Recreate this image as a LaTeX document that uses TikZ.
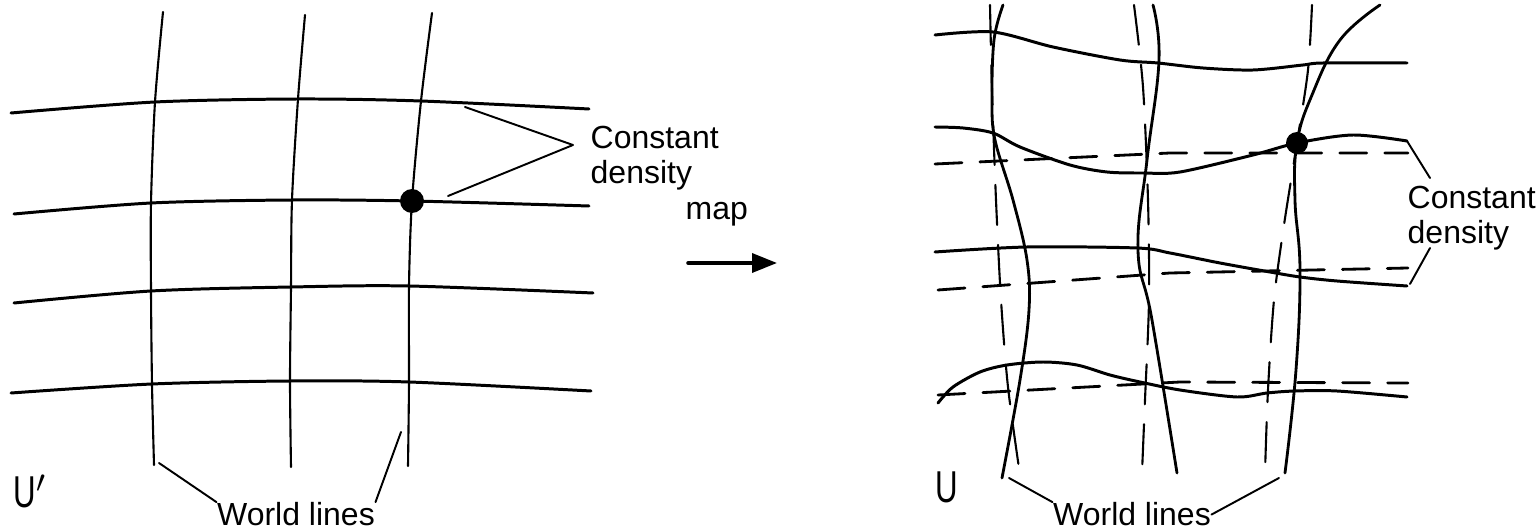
\documentclass[tikz,border=0pt]{standalone}
\usepackage{fontspec}
\setmainfont{Liberation Sans}
\usetikzlibrary{arrows.meta}

\begin{document}
\begin{tikzpicture}[x=0.1mm,y=-0.1mm,line cap=round,line join=round,
  dens/.style={line width=.85pt},wline/.style={line width=.6pt},
  ddens/.style={line width=.8pt,dash pattern=on 2.7mm off 1.8mm},
  dwline/.style={line width=.6pt,dash pattern=on 4mm off 2mm},
  lead/.style={line width=.55pt},
  lbl/.style={inner sep=0pt,font=\fontsize{9.1}{10}\selectfont,align=left}]
  \useasboundingbox (0,0) rectangle (1539,531);
  \draw[dens] plot[smooth] coordinates {(11,113) (155,102) (298,99) (421,101) (589,109)};
  \draw[dens] plot[smooth] coordinates {(14,214) (151,203) (292,200) (412,201) (589,206)};
  \draw[dens] plot[smooth] coordinates {(14,303) (151,291) (291,287) (409,286) (593,293)};
  \draw[dens] plot[smooth] coordinates {(11,393) (152,384) (290,381) (409,382) (591,391)};
  \draw[wline] plot[smooth] coordinates {(163,12) (155,102) (151,203) (151,291) (152,384) (154,465)};
  \draw[wline] plot[smooth] coordinates {(305,15) (298,99) (292,200) (291,287) (290,381) (291,467)};
  \draw[wline] plot[smooth] coordinates {(432,13) (421,101) (412,201) (409,286) (409,382) (408,466)};
  \fill (412,201) circle[radius=1.2mm];
  \node[lbl,anchor=north west] (cdL) at (590,125) {Constant\\density};
  \coordinate (cdLa) at (465,107); \coordinate (tipL) at (573,145); \coordinate (cdLb) at (448,196);
  \draw[lead] (cdLa) -- (tipL) -- (cdLb);
  \node[lbl,anchor=base] (wlL) at (296,526) {World lines};
  \coordinate (wlLa) at (159,463); \coordinate (wlLb) at (401,432);
  \draw[lead] (wlLa) -- (wlL.north west); \draw[lead] (wlLb) -- (wlL.north east);
  \node[anchor=base west,inner sep=0pt,font=\fontsize{12.7}{14}\selectfont] (uL) at (13,508) {\scalebox{.7}[1]{U}$'$};
  \node[lbl,anchor=base west] (mapL) at (685,220) {map};
  \coordinate (mapA) at (688,263); \coordinate (mapB) at (777,263);
  \draw[line width=1pt,-{Triangle[length=2.5mm,width=1.9mm]}] (mapA) -- (mapB);
  \draw[dens] plot[smooth] coordinates {(935,35) (993,32) (1053,47) (1120,60) (1158,63) (1203,68) (1253,70) (1303,65) (1323,63) (1407,63)};
  \draw[dens] plot[smooth] coordinates {(935,127) (963,128) (993,133) (1020,147) (1070,165) (1107,172) (1143,173) (1180,172) (1253,155) (1297,143) (1353,135) (1407,141)};
  \draw[dens] plot[smooth] coordinates {(935,252) (1027,247) (1137,248) (1170,253) (1220,263) (1270,272) (1300,277) (1337,281) (1407,286)};
  \draw[dens] plot[smooth] coordinates {(938,403) (953,387) (980,372) (1007,365) (1043,362) (1077,365) (1110,375) (1140,382) (1180,390) (1237,397) (1267,393) (1295,391) (1337,391) (1407,397)};
  \draw[wline,line width=.8pt] plot[smooth,tension=.6] coordinates {(1003,5) (994,40) (992,100) (995,140) (1013,200) (1027,260) (1029,310) (1020,380) (1002,478)};
  \draw[wline,line width=.8pt] plot[smooth,tension=.7] coordinates {(1153,5) (1159,60) (1147,160) (1138,250) (1152,320) (1177,473)};
  \draw[wline,line width=.8pt] plot[smooth,tension=.7] coordinates {(1380,5) (1340,40) (1312,95) (1297,143) (1295,200) (1300,270) (1296,370) (1285,473)};
  \draw[ddens] (935,164) -- (1170,153) -- (1408,153);
  \draw[ddens] (938,290) -- (1170,273) -- (1408,268);
  \draw[ddens] (938,395) -- (1180,382) -- (1408,383);
  \draw[dwline] plot[smooth] coordinates {(990,5) (992,90) (996,200) (1001,300) (1008,387) (1020,475)};
  \draw[dwline] plot[smooth] coordinates {(1134,5) (1143,87) (1148,200) (1149,300) (1145,400) (1142,473)};
  \draw[dwline] plot[smooth] coordinates {(1312,5) (1308,70) (1297,143) (1284,225) (1274,300) (1268,390) (1265,473)};
  \fill (1297,143) circle[radius=1.1mm];
  \node[lbl,anchor=north west] (cdR) at (1407,185) {Constant\\density};
  \coordinate (cdRa) at (1407,141); \coordinate (cdRb) at (1430,178); \coordinate (cdRc) at (1430,248); \coordinate (cdRd) at (1410,284);
  \draw[lead] (cdRa) -- (cdRb); \draw[lead] (cdRc) -- (cdRd);
  \node[lbl,anchor=base] (wlR) at (1132,526) {World lines};
  \coordinate (wlRa) at (1009,478); \coordinate (wlRb) at (1279,478);
  \draw[lead] (wlRa) -- (wlR.north west); \draw[lead] (wlRb) -- (wlR.east);
  \node[anchor=base west,inner sep=0pt,font=\fontsize{12.7}{14}\selectfont] (uR) at (935,502) {\scalebox{.7}[1]{U}};
\end{tikzpicture}
\end{document}
